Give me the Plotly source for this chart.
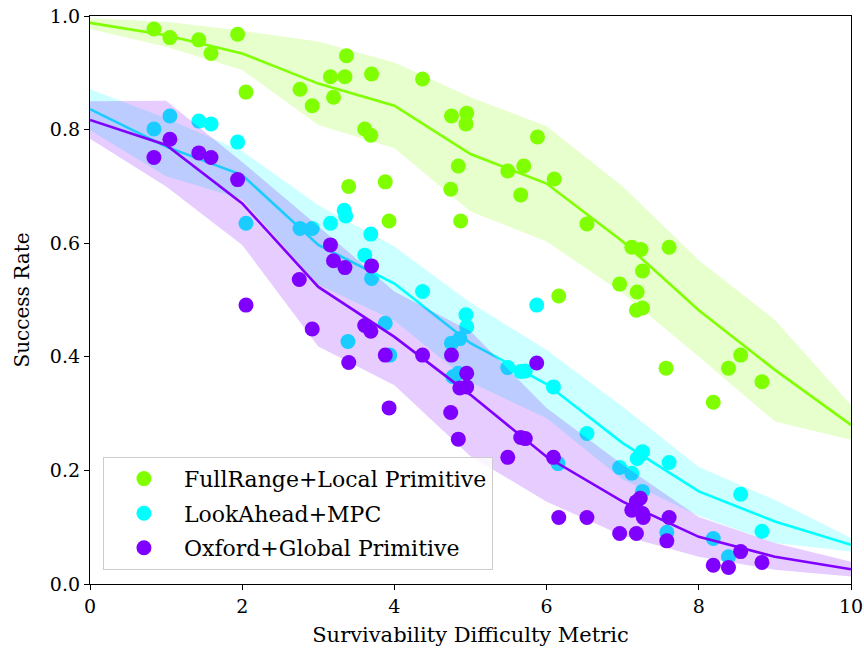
import plotly.graph_objects as go

# Difficulty levels where the mean success curves and spread bands are evaluated
levels = [0, 1, 2, 3, 4, 5, 6, 7, 8, 9, 10]

# FullRange + Local Primitive
full_mean = [0.988, 0.966, 0.934, 0.881, 0.842, 0.757, 0.705, 0.603, 0.482, 0.377, 0.280]
full_upper = [0.996, 0.990, 0.974, 0.955, 0.918, 0.857, 0.806, 0.700, 0.570, 0.465, 0.315]
full_lower = [0.977, 0.946, 0.905, 0.808, 0.767, 0.656, 0.603, 0.512, 0.400, 0.286, 0.254]
full_x = [0.84, 1.05, 1.43, 1.59, 1.94, 2.05, 2.76, 2.92, 3.16, 3.20, 3.35, 3.37, 3.40,
          3.61, 3.69, 3.70, 3.88, 3.93, 4.37, 4.74, 4.75, 4.84, 4.87, 4.94, 4.95, 5.49,
          5.66, 5.70, 5.88, 6.10, 6.16, 6.53, 6.96, 7.12, 7.18, 7.19, 7.24, 7.26, 7.26,
          7.61, 7.57, 8.19, 8.39, 8.55, 8.83]
full_y = [0.977, 0.962, 0.958, 0.934, 0.968, 0.866, 0.871, 0.842, 0.893, 0.857, 0.893,
          0.930, 0.700, 0.801, 0.790, 0.898, 0.708, 0.639, 0.889, 0.695, 0.824, 0.736,
          0.639, 0.810, 0.829, 0.727, 0.685, 0.736, 0.787, 0.713, 0.507, 0.634, 0.528,
          0.593, 0.482, 0.514, 0.589, 0.551, 0.486, 0.593, 0.380, 0.320, 0.380, 0.403,
          0.356]

# LookAhead + MPC
look_mean = [0.836, 0.770, 0.720, 0.597, 0.529, 0.424, 0.352, 0.248, 0.163, 0.110, 0.069]
look_upper = [0.871, 0.820, 0.762, 0.667, 0.594, 0.495, 0.412, 0.312, 0.206, 0.148, 0.081]
look_lower = [0.799, 0.718, 0.678, 0.527, 0.464, 0.355, 0.292, 0.184, 0.120, 0.072, 0.057]
look_x = [0.84, 1.05, 1.43, 1.59, 1.94, 2.05, 2.76, 2.92, 3.16, 3.34, 3.36, 3.39, 3.61,
          3.69, 3.70, 3.88, 3.94, 4.37, 4.75, 4.77, 4.84, 4.86, 4.94, 4.95, 5.49, 5.66,
          5.72, 5.87, 6.09, 6.15, 6.53, 6.96, 7.12, 7.19, 7.23, 7.26, 7.26, 7.58, 7.61,
          8.19, 8.39, 8.55, 8.83]
look_y = [0.801, 0.824, 0.815, 0.810, 0.778, 0.635, 0.626, 0.626, 0.635, 0.658, 0.648,
          0.427, 0.579, 0.616, 0.538, 0.459, 0.403, 0.515, 0.424, 0.365, 0.371, 0.432,
          0.474, 0.453, 0.381, 0.374, 0.375, 0.491, 0.347, 0.212, 0.265, 0.205, 0.195,
          0.221, 0.227, 0.233, 0.163, 0.091, 0.214, 0.080, 0.048, 0.158, 0.093]

# Oxford + Global Primitive
ox_mean = [0.817, 0.773, 0.670, 0.523, 0.435, 0.333, 0.224, 0.145, 0.083, 0.048, 0.026]
ox_upper = [0.850, 0.851, 0.743, 0.630, 0.515, 0.445, 0.310, 0.210, 0.118, 0.072, 0.039]
ox_lower = [0.784, 0.700, 0.597, 0.418, 0.350, 0.225, 0.145, 0.085, 0.048, 0.025, 0.013]
ox_x = [0.84, 1.05, 1.43, 1.59, 1.94, 2.05, 2.75, 2.92, 3.16, 3.20, 3.35, 3.40, 3.61,
        3.69, 3.70, 3.88, 3.93, 4.37, 4.74, 4.75, 4.84, 4.86, 4.95, 4.95, 5.49, 5.66,
        5.72, 5.87, 6.09, 6.16, 6.53, 6.96, 7.12, 7.18, 7.18, 7.23, 7.26, 7.27, 7.58,
        7.61, 8.19, 8.39, 8.55, 8.83]
ox_y = [0.751, 0.783, 0.759, 0.751, 0.712, 0.491, 0.536, 0.449, 0.597, 0.569, 0.557,
        0.390, 0.455, 0.445, 0.560, 0.403, 0.310, 0.403, 0.302, 0.403, 0.255, 0.345,
        0.347, 0.371, 0.223, 0.258, 0.256, 0.389, 0.223, 0.117, 0.117, 0.089, 0.130,
        0.145, 0.089, 0.151, 0.124, 0.117, 0.076, 0.117, 0.033, 0.029, 0.057, 0.038]

series = [
    ("FullRange+Local Primitive", (128, 255, 0), full_mean, full_upper, full_lower, full_x, full_y),
    ("LookAhead+MPC", (0, 255, 255), look_mean, look_upper, look_lower, look_x, look_y),
    ("Oxford+Global Primitive", (128, 0, 255), ox_mean, ox_upper, ox_lower, ox_x, ox_y),
]

FONT = "DejaVu Serif"
fig = go.Figure()

for i, (name, rgb, mean, upper, lower, xs, ys) in enumerate(series):
    solid = "rgb(%d,%d,%d)" % rgb
    faint = "rgba(%d,%d,%d,0.2)" % rgb
    # spread band as a closed polygon: upper edge forward, lower edge back
    fig.add_trace(go.Scatter(
        x=levels + levels[::-1], y=upper + lower[::-1],
        fill="toself", fillcolor=faint, line=dict(width=0),
        mode="lines", hoverinfo="skip", showlegend=False))
    fig.add_trace(go.Scatter(
        x=levels, y=mean, mode="lines",
        line=dict(color=solid, width=2.6), showlegend=False))
    fig.add_trace(go.Scatter(
        x=xs, y=ys, mode="markers", name=name, legendgroup="g%d" % i,
        marker=dict(color=solid, size=15, line=dict(width=0))))

axis_common = dict(
    showline=True, linecolor="black", linewidth=1.3, mirror=True,
    ticks="outside", ticklen=5, tickwidth=1.1, tickcolor="black",
    showgrid=False, zeroline=False, automargin=False,
    tickfont=dict(family=FONT, size=19, color="black"),
)

fig.update_layout(
    width=864, height=652,
    margin=dict(l=90, r=13, t=16, b=68),
    paper_bgcolor="white", plot_bgcolor="white",
    font=dict(family=FONT, color="black"),
    xaxis=dict(range=[0, 10], tickvals=[0, 2, 4, 6, 8, 10],
               title=dict(text="Survivability Difficulty Metric",
                          font=dict(family=FONT, size=21), standoff=11),
               **axis_common),
    yaxis=dict(range=[0, 1.0], tickvals=[0, 0.2, 0.4, 0.6, 0.8, 1.0],
               tickformat=".1f",
               title=dict(text="Success Rate",
                          font=dict(family=FONT, size=20), standoff=14),
               **axis_common),
    legend=dict(
        x=0.017, y=0.025, xanchor="left", yanchor="bottom",
        bgcolor="rgba(255,255,255,0.8)", bordercolor="#cccccc", borderwidth=1,
        font=dict(family=FONT, size=22, color="black"),
        traceorder="grouped", tracegroupgap=3, itemwidth=70,
    ),
)

# page body without default margin so the figure sits at the window origin
fig.write_html("out.html",
               post_script="document.body.style.margin='0';"
                           "document.body.style.overflow='hidden';")
